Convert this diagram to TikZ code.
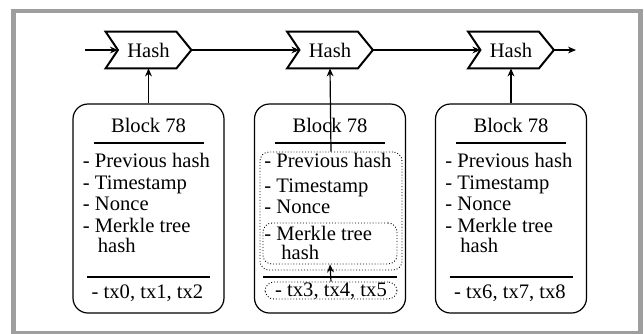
\documentclass[tikz,border=0pt]{standalone}
\usepackage{fontspec}
\setmainfont{Liberation Serif}
\usetikzlibrary{arrows.meta,calc}
\definecolor{framegray}{RGB}{158,158,158}
\tikzset{
  txt/.style={font=\fontsize{10.3}{12}\selectfont, inner sep=0pt},
  hashbox/.style={txt, minimum width=42.5pt, minimum height=18pt},
  hashline/.style={line width=1pt, line join=miter},
  blockbox/.style={draw, line width=0.6pt, rounded corners=7.5pt, minimum width=75.5pt, minimum height=104.5pt, inner sep=0pt},
  innerbox/.style={draw, densely dotted, line width=0.45pt, rounded corners=4.5pt, inner sep=0pt},
  lbl/.style={txt, anchor=base west},
  ctr/.style={txt, anchor=base},
  rule/.style={line width=0.6pt},
  link/.style={line width=0.6pt, -{Stealth[length=4pt,width=3.4pt]}},
}
\begin{document}
\begin{tikzpicture}[x=0.5pt,y=-0.5pt]
\useasboundingbox (0,0) rectangle (644,333);
% outer frame
\draw[framegray, line width=2.2pt] (13.3,11) rectangle (640.5,333);

% hash stages
\foreach \i/\cx in {1/148.5, 2/330, 3/511} {
  \node[hashbox] (hash\i) at (\cx,50) {Hash};
  \draw[hashline] (hash\i.north west) -- ($(hash\i.north east)+(-15,0)$) -- (hash\i.east)
    -- ($(hash\i.south east)+(-15,0)$) -- (hash\i.south west) -- ($(hash\i.west)+(12.3,0)$) -- cycle;
  \coordinate (notch\i) at ($(hash\i.west)+(12.3,0)$);
}
\coordinate (chainin) at (85,50);
\coordinate (chainout) at (576,50);
\draw[link] (chainin) -- (notch1);
\draw[link] (hash1.east) -- (notch2);
\draw[link] (hash2.east) -- (notch3);
\draw[link] (hash3.east) -- (chainout);

% plain blocks
\foreach \i/\cx/\txs in {1/148.5/{tx0, tx1, tx2}, 3/511/{tx6, tx7, tx8}} {
  \node[blockbox] (blk\i) at (\cx,208.5) {};
  \node[ctr] (title\i) at (\cx,132) {Block 78};
  \draw[rule] (\cx-55,143) -- (\cx+55,143);
  \node[lbl] (prev\i) at (\cx-66,167) {- Previous hash};
  \node[lbl] (time\i) at (\cx-66,189) {- Timestamp};
  \node[lbl] (nonce\i) at (\cx-66,210) {- Nonce};
  \node[lbl] (merk\i) at (\cx-66,232) {- Merkle tree};
  \node[lbl] (mhash\i) at (\cx-51,252) {hash};
  \draw[rule] (\cx-61.5,277) -- (\cx+61.5,277);
  \node[ctr] (tx\i) at (\cx-1,298) {- \txs};
  \draw[link] (blk\i.north) -- (hash\i.south);
}

% highlighted block
\node[blockbox] (blk2) at (330,208.5) {};
\node[ctr] (title2) at (330,132) {Block 78};
\draw[rule] (275,143) -- (385,143);
\node[innerbox, minimum width=71pt, minimum height=59pt] (head2) at (331,211) {};
\node[lbl] (prev2) at (264,167) {- Previous hash};
\node[lbl] (time2) at (264,192) {- Timestamp};
\node[lbl] (nonce2) at (264,213) {- Nonce};
\node[innerbox, minimum width=67pt, minimum height=20.5pt] (merkbox2) at (330,243.5) {};
\node[lbl] (merk2) at (264,240) {- Merkle tree};
\node[lbl] (mhash2) at (281,259) {hash};
\draw[rule] (263,277) -- (397,277);
\node[innerbox, minimum width=66pt, minimum height=8.5pt] (txbox2) at (331,290.5) {};
\node[ctr] (tx2) at (331,296) {- tx3, tx4, tx5};
\draw[link] (head2.north) -- (hash2.south);
\draw[link] (txbox2.north) -- (merkbox2.south);
\end{tikzpicture}
\end{document}
